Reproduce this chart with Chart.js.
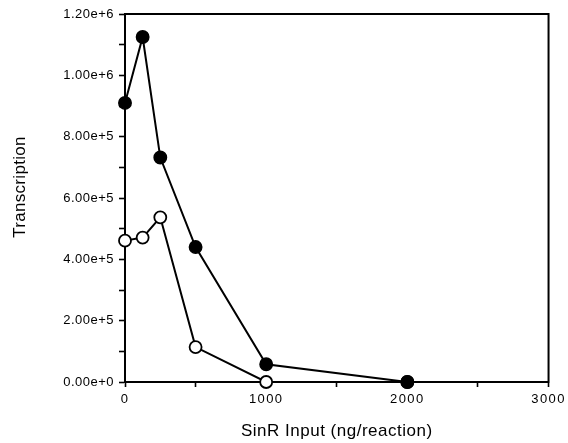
<!DOCTYPE html>
<html>
<head>
<meta charset="utf-8">
<script src="https://cdn.jsdelivr.net/npm/chart.js@4"></script>
<style>
html,body{margin:0;padding:0;background:#fff;}
canvas{display:block;}
</style>
</head>
<body>
<canvas id="c" width="568" height="443"></canvas>
<script>
// Data
const sinrInput = [0, 125, 250, 500, 1000, 2000];
const filledSeries = [910000, 1125000, 732000, 440000, 58000, 0];
const openSeries = [461000, 471000, 537000, 114000, 0, 0];
const xTickLabels = ['0', '1000', '2000', '3000'];
const yTickLabels = ['0.00e+0', '2.00e+5', '4.00e+5', '6.00e+5', '8.00e+5', '1.00e+6', '1.20e+6'];
const yTitle = 'Transcription';
const xTitle = 'SinR Input (ng/reaction)';

const FONT = '"Liberation Sans", Arial, Helvetica, sans-serif';

const toPts = (xs, ys) => xs.map((x, i) => ({x: x, y: ys[i]}));

const boxPlugin = {
  id: 'box',
  beforeDraw(chart) {
    chart.ctx.letterSpacing = '0.5px';
    const xs = chart.scales.x;
    if (xs && !xs._lsWrapped) {
      const orig = xs.drawLabels;
      xs.drawLabels = function (area) {
        const ctx = this.ctx;
        ctx.save();
        ctx.letterSpacing = '1.4px';
        orig.call(this, area);
        ctx.restore();
      };
      xs._lsWrapped = true;
    }
  },
  beforeDatasetsDraw(chart) {
    const {ctx, chartArea: a} = chart;
    ctx.save();
    ctx.strokeStyle = '#000';
    ctx.lineWidth = 2;
    ctx.strokeRect(a.left, a.top, a.right - a.left, a.bottom - a.top);
    ctx.restore();
  },
  afterDraw(chart) {
    const {ctx, chartArea: a} = chart;
    ctx.save();
    ctx.letterSpacing = '0.3px';
    ctx.font = '17px ' + FONT;
    ctx.fillStyle = '#000';
    ctx.textAlign = 'center';
    ctx.textBaseline = 'middle';
    ctx.translate(20, (a.top + a.bottom) / 2 - 11);
    ctx.rotate(-Math.PI / 2);
    ctx.fillText(yTitle, 0, 0);
    ctx.restore();
  }
};

new Chart(document.getElementById('c'), {
  type: 'line',
  data: {
    datasets: [
      {
        label: 'filled',
        data: toPts(sinrInput, filledSeries),
        borderColor: '#000',
        backgroundColor: '#000',
        pointBackgroundColor: '#000',
        pointBorderColor: '#000',
        borderWidth: 2,
        pointRadius: 6.2,
        pointBorderWidth: 1.5,
        tension: 0,
        clip: false
      },
      {
        label: 'open',
        data: toPts(sinrInput, openSeries),
        borderColor: '#000',
        backgroundColor: '#fff',
        pointBackgroundColor: '#fff',
        pointBorderColor: '#000',
        borderWidth: 2,
        pointRadius: 6,
        pointBorderWidth: 1.8,
        tension: 0,
        clip: false
      }
    ]
  },
  options: {
    responsive: false,
    animation: false,
    layout: {padding: {top: 14, right: 18, left: 0, bottom: 0}},
    plugins: {legend: {display: false}, tooltip: {enabled: false}},
    scales: {
      x: {
        type: 'linear',
        min: 0,
        max: 3000,
        afterFit(s) { s.height = 61; },
        ticks: {
          stepSize: 500,
          autoSkip: false,
          maxRotation: 0,
          padding: 5,
          color: '#000',
          font: {family: FONT, size: 13},
          callback(v) {
            const k = Math.round(v / 500);
            return k % 2 === 0 ? xTickLabels[k / 2] : '';
          }
        },
        grid: {drawOnChartArea: false, drawTicks: true, tickLength: 5, tickColor: '#000', tickWidth: 1.6},
        border: {display: true, color: '#000', width: 2},
        title: {
          display: true,
          text: xTitle,
          color: '#000',
          font: {family: FONT, size: 17},
          padding: {top: 0, bottom: 1}
        }
      },
      y: {
        type: 'linear',
        min: 0,
        max: 1200000,
        afterFit(s) { s.width = 125; },
        ticks: {
          stepSize: 100000,
          autoSkip: false,
          padding: 5,
          color: '#000',
          font: {family: FONT, size: 13},
          callback(v) {
            const k = Math.round(v / 100000);
            return k % 2 === 0 ? yTickLabels[k / 2] : '';
          }
        },
        grid: {drawOnChartArea: false, drawTicks: true, tickLength: 6, tickColor: '#000', tickWidth: 1.6},
        border: {display: true, color: '#000', width: 2},
        title: {display: false}
      }
    }
  },
  plugins: [boxPlugin]
});
</script>
</body>
</html>
